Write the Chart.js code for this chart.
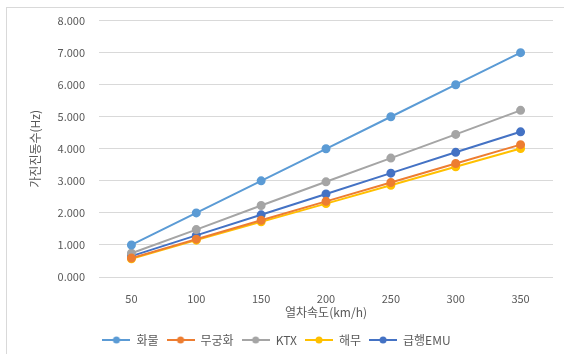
<!DOCTYPE html>
<html>
<head>
<meta charset="utf-8">
<script src="https://cdn.jsdelivr.net/npm/chart.js@4/dist/chart.umd.min.js"></script>
<style>
  body { margin: 0; background: #fff; }
  #wrap { position: relative; width: 564px; height: 354px; }
  #frame { position: absolute; left: 6px; top: 7px; right: 0; bottom: 0;
           border-left: 1px solid #d9d9d9; border-top: 1px solid #d9d9d9; }
  canvas { position: absolute; left: 0; top: 0; }
</style>
</head>
<body>
<div id="wrap">
  <div id="frame"></div>
  <canvas id="chart" width="564" height="354"></canvas>
</div>
<script>
const speeds = ['50', '100', '150', '200', '250', '300', '350'];
const seriesNames = ['화물', '무궁화', 'KTX', '해무', '급행EMU'];
const hwamul = [1.00, 2.00, 3.00, 4.00, 5.00, 6.00, 7.00];
const mugunghwa = [0.59, 1.18, 1.77, 2.36, 2.95, 3.54, 4.13];
const ktx = [0.74, 1.48, 2.23, 2.97, 3.71, 4.45, 5.20];
const haemu = [0.57, 1.15, 1.72, 2.29, 2.86, 3.44, 4.01];
const emu = [0.65, 1.30, 1.94, 2.59, 3.24, 3.89, 4.53];
const colors = ['#5b9bd5', '#ed7d31', '#a5a5a5', '#ffc000', '#4472c4'];

const fontFamily = '"Noto Sans CJK KR", "Noto Sans", sans-serif';
const textColor = '#595959';

function legendMarker(color) {
    const c = document.createElement('canvas');
    c.width = 28;
    c.height = 10;
    const g = c.getContext('2d');
    g.strokeStyle = color;
    g.lineWidth = 2;
    g.beginPath();
    g.moveTo(0, 5);
    g.lineTo(28, 5);
    g.stroke();
    g.fillStyle = color;
    g.beginPath();
    g.arc(14, 5, 3.5, 0, Math.PI * 2);
    g.fill();
    return c;
}

const allValues = [hwamul, mugunghwa, ktx, haemu, emu];
const datasets = seriesNames.map((name, i) => ({
    label: name,
    data: allValues[i],
    borderColor: colors[i],
    backgroundColor: colors[i],
    borderWidth: 2,
    pointRadius: 3.5,
    pointHoverRadius: 3.5,
    tension: 0
}));

const ctx = document.getElementById('chart').getContext('2d');
new Chart(ctx, {
    type: 'line',
    data: { labels: speeds, datasets: datasets },
    options: {
        responsive: false,
        animation: false,
        layout: { padding: { top: 19, right: 11, left: 0, bottom: -2 } },
        plugins: {
            tooltip: { enabled: false },
            legend: {
                position: 'bottom',
                labels: {
                    usePointStyle: true,
                    pointStyleWidth: 28,
                    padding: 8,
                    color: textColor,
                    font: { family: fontFamily, size: 12 },
                    generateLabels: function (chart) {
                        const items = Chart.defaults.plugins.legend.labels.generateLabels(chart);
                        items.forEach((item, i) => { item.pointStyle = legendMarker(colors[i]); });
                        return items;
                    }
                }
            }
        },
        scales: {
            x: {
                offset: true,
                grid: { display: false },
                border: { display: false },
                ticks: { color: textColor, padding: 7, font: { family: fontFamily, size: 11 } },
                title: {
                    display: true,
                    text: '열차속도(km/h)',
                    color: textColor,
                    font: { family: fontFamily, size: 12 },
                    padding: { top: 0, bottom: 6 }
                },
                afterFit: function (scale) { scale.height = 49; }
            },
            y: {
                min: 0,
                max: 8,
                grid: { color: '#d9d9d9', drawTicks: false },
                border: { display: false },
                ticks: {
                    stepSize: 1,
                    padding: 14,
                    color: textColor,
                    font: { family: fontFamily, size: 11 },
                    callback: v => v.toFixed(3).replace(/(\d)(?=(\d{3})+\.)/g, '$1,')
                },
                title: {
                    display: true,
                    text: '가진진동수(Hz)',
                    color: textColor,
                    font: { family: fontFamily, size: 12 },
                    padding: { top: 28, bottom: 0 }
                },
                afterFit: function (scale) { scale.width = 99; }
            }
        }
    }
});
</script>
</body>
</html>
